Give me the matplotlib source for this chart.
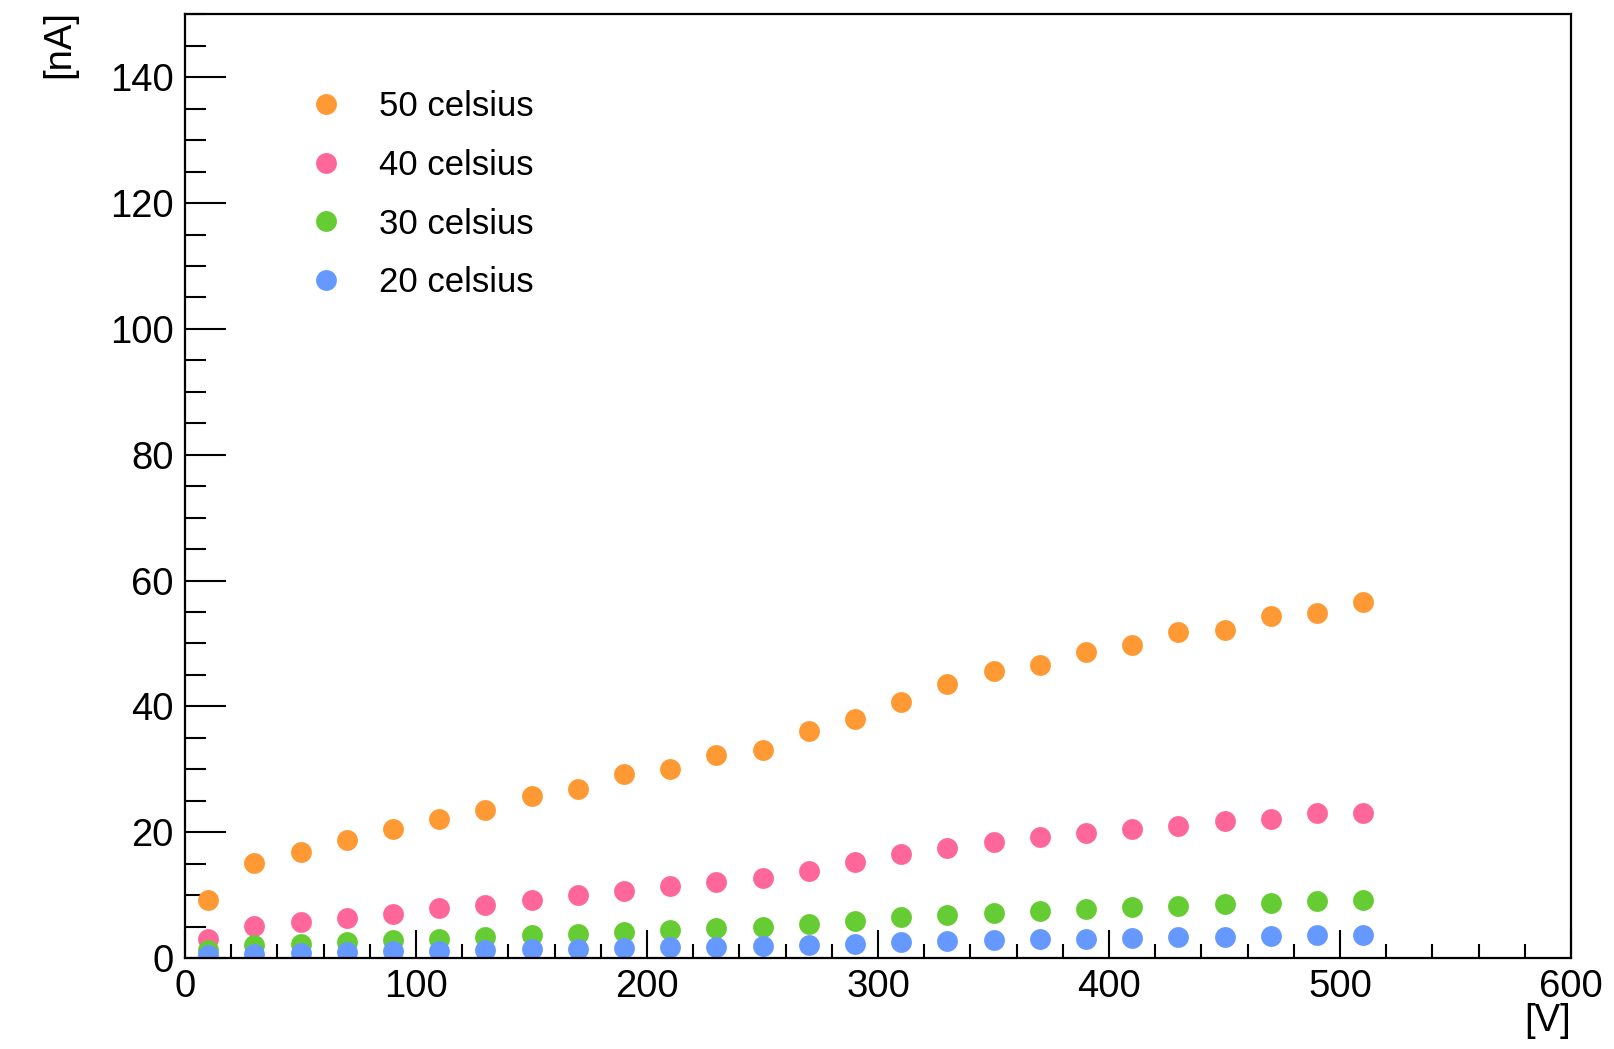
import numpy as np
import matplotlib.pyplot as plt
from matplotlib.ticker import MultipleLocator

# tensione [V]
voltage = [10, 30, 50, 70, 90, 110, 130, 150, 170, 190, 210, 230, 250,
           270, 290, 310, 330, 350, 370, 390, 410, 430, 450, 470, 490, 510]

# corrente [nA] per temperatura
i_50 = [9.3, 15.1, 16.9, 18.7, 20.5, 22.1, 23.6, 25.7, 26.9, 29.2, 30.0, 32.3, 33.1,
        36.1, 38.0, 40.7, 43.6, 45.7, 46.6, 48.7, 49.7, 51.8, 52.1, 54.4, 54.9, 56.6]
i_40 = [3.1, 5.1, 5.7, 6.4, 7.0, 7.9, 8.5, 9.2, 10.0, 10.7, 11.5, 12.1, 12.8,
        13.9, 15.2, 16.6, 17.5, 18.4, 19.2, 19.8, 20.5, 21.0, 21.8, 22.1, 23.1, 23.1]
i_30 = [1.3, 2.0, 2.3, 2.6, 2.9, 3.1, 3.4, 3.6, 3.9, 4.1, 4.4, 4.7, 4.9,
        5.4, 5.9, 6.5, 6.9, 7.2, 7.5, 7.8, 8.1, 8.3, 8.6, 8.8, 9.0, 9.2]
i_20 = [0.5, 0.7, 0.8, 0.9, 1.1, 1.2, 1.3, 1.4, 1.5, 1.6, 1.7, 1.8, 1.9,
        2.0, 2.2, 2.5, 2.7, 2.9, 3.0, 3.1, 3.2, 3.3, 3.4, 3.5, 3.6, 3.6]

labels = ['50 celsius', '40 celsius', '30 celsius', '20 celsius']
colors = ['#ff9933', '#ff6699', '#66cc33', '#6699ff']

plt.rcParams['font.family'] = ['Liberation Sans', 'DejaVu Sans']

fig = plt.figure(figsize=(16.15, 10.49), dpi=100)
ax = fig.add_axes([0.1146, 0.0867, 0.8582, 0.8996])

for y, c, lab in zip([i_50, i_40, i_30, i_20], colors, labels):
    ax.plot(voltage, y, 'o', color=c, markersize=15, markeredgewidth=0, label=lab)

ax.set_xlim(0, 600)
ax.set_ylim(0, 150)

ax.xaxis.set_major_locator(MultipleLocator(100))
ax.xaxis.set_minor_locator(MultipleLocator(20))
ax.yaxis.set_major_locator(MultipleLocator(20))
ax.yaxis.set_minor_locator(MultipleLocator(5))

ax.tick_params(axis='both', which='both', direction='in', top=False, right=False,
               width=1.5, labelsize=27.5, colors='black')
ax.tick_params(axis='y', which='major', length=29.5, pad=8)
ax.tick_params(axis='y', which='minor', length=15)
ax.tick_params(axis='x', which='major', length=20, pad=8)
ax.tick_params(axis='x', which='minor', length=10)

for s in ax.spines.values():
    s.set_linewidth(1.6)

ax.set_xlabel('[V]', fontsize=27.5, ha='right')
ax.xaxis.set_label_coords(1.0, -0.048)
ax.set_ylabel('[nA]', fontsize=27.5, ha='right')
ax.yaxis.set_label_coords(-0.078, 1.005)

ax.legend(loc='upper left', bbox_to_anchor=(0.0763, 0.938), frameon=False,
          fontsize=25, markerscale=1.0, handlelength=1.0, handletextpad=1.05,
          labelspacing=0.74, borderpad=0)

fig.savefig('out.png', dpi=100)
